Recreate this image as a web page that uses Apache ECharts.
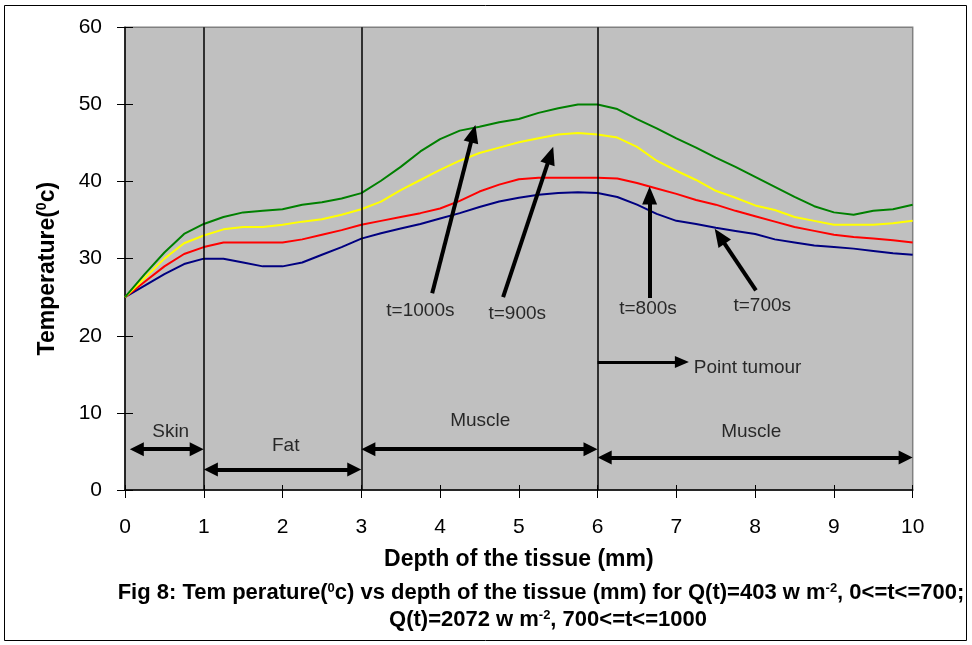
<!DOCTYPE html>
<html>
<head>
<meta charset="utf-8">
<script src="https://cdn.jsdelivr.net/npm/echarts@6/dist/echarts.min.js"></script>
<style>html,body{margin:0;padding:0;background:#fff;}#c{width:972px;height:645px;}</style>
</head>
<body>
<div id="c"></div>
<script>
// ---- data ----
const depth = [0,0.25,0.5,0.75,1,1.25,1.5,1.75,2,2.25,2.5,2.75,3,3.25,3.5,3.75,4,4.25,4.5,4.75,5,5.25,5.5,5.75,6,6.25,6.5,6.75,7,7.25,7.5,7.75,8,8.25,8.5,8.75,9,9.25,9.5,9.75,10];
const t1000 = [25,28,30.8,33.2,34.5,35.4,36.0,36.2,36.4,37.0,37.3,37.8,38.5,40.1,41.9,43.9,45.5,46.6,47.1,47.7,48.1,48.9,49.5,50.0,50.0,49.4,48.1,46.9,45.6,44.4,43.1,41.9,40.6,39.3,38.0,36.8,36.0,35.7,36.2,36.4,37.0];
const t900  = [25,27.5,30,32,33.0,33.8,34.1,34.1,34.4,34.8,35.1,35.7,36.4,37.4,38.9,40.2,41.5,42.7,43.7,44.4,45.1,45.6,46.1,46.3,46.1,45.7,44.5,42.7,41.4,40.2,38.8,37.9,36.9,36.3,35.4,34.9,34.4,34.4,34.4,34.6,34.9];
const t800  = [25,27,29,30.6,31.5,32.1,32.1,32.1,32.1,32.5,33.1,33.7,34.4,34.9,35.4,35.9,36.5,37.5,38.7,39.6,40.3,40.5,40.5,40.5,40.5,40.4,39.8,39.1,38.4,37.6,37.0,36.2,35.5,34.8,34.1,33.6,33.1,32.8,32.6,32.4,32.1];
const t700  = [25,26.5,28,29.3,30.0,30.0,29.5,29.0,29.0,29.5,30.5,31.5,32.6,33.3,33.9,34.5,35.2,35.9,36.7,37.4,37.9,38.3,38.5,38.6,38.5,38.0,37.0,35.8,34.9,34.5,34.0,33.6,33.2,32.5,32.1,31.7,31.5,31.3,31.0,30.7,30.5];
const xTicks = [0,1,2,3,4,5,6,7,8,9,10];
const yTicks = [0,10,20,30,40,50,60];
const layerBounds = [1,3,6];
// annotations (data coordinates)
const timeArrows = [
  {from:[3.90,25.5], to:[4.42,46.2]},
  {from:[4.80,25.0], to:[5.40,43.4]},
  {from:[6.66,24.9], to:[6.66,38.2]},
  {from:[8.01,25.9], to:[7.55,32.9]}
];
const layerArrows = [
  {from:[0.15,5.3], to:[0.91,5.3]},
  {from:[1.09,2.66], to:[2.91,2.66]},
  {from:[3.09,5.3], to:[5.91,5.3]},
  {from:[6.09,4.2], to:[9.91,4.2]}
];
const tumourArrow = {from:[6.0,16.6], to:[7.07,16.6]};
const annText = [
  [3.75,23.2,'t=1000s'],[4.98,22.8,'t=900s'],[6.64,23.5,'t=800s'],[8.09,23.9,'t=700s'],
  [0.58,7.5,'Skin'],[2.04,5.8,'Fat'],[4.51,9.0,'Muscle'],[7.95,7.5,'Muscle']
];
const tumourText = [[7.22,15.9,'Point tumour']];

const pairs = arr => depth.map((d,i)=>[d,arr[i]]);
const FONT = '"Liberation Sans", Arial, sans-serif';

const chart = echarts.init(document.getElementById('c'), null, {renderer:'canvas'});
function seg(a, sym, size, w){
  return [{coord:a.from, symbol:sym[0], symbolSize:size}, {coord:a.to, symbol:sym[1], symbolSize:size, lineStyle:{width:w}}];
}
const axisCommon = {
  axisLine:{show:false}, splitLine:{show:false}, axisLabel:{show:false}
};
const capRich = {
  b:{fontSize:22,fontWeight:'bold',fontFamily:FONT,fill:'#000',verticalAlign:'bottom'},
  s:{fontSize:13,fontWeight:'bold',fontFamily:FONT,fill:'#000',verticalAlign:'top',padding:[0,0,9,0]}
};
chart.setOption({
  animation:false,
  backgroundColor:'#fff',
  grid:{left:125,right:59.3,top:27.3,bottom:155,show:true,backgroundColor:'#c0c0c0',borderColor:'#808080',borderWidth:1.5},
  xAxis:[{
    type:'value',min:0,max:10,interval:1,position:'bottom',
    axisLine:{show:true,lineStyle:{color:'#000',width:1.5}},
    axisTick:{show:true,length:8,lineStyle:{color:'#000',width:1}},
    axisLabel:{fontSize:21,color:'#000',margin:27,fontFamily:FONT},
    splitLine:{show:false},
    name:'Depth of the tissue (mm)',nameLocation:'middle',nameGap:58,
    nameTextStyle:{fontSize:23,fontWeight:'bold',color:'#000',fontFamily:FONT}
  },{
    type:'value',min:0,max:10,interval:1,position:'bottom',
    axisTick:{show:true,inside:true,length:5,lineStyle:{color:'#000',width:1}}, ...axisCommon
  }],
  yAxis:[{
    type:'value',min:0,max:60,interval:10,position:'left',
    axisLine:{show:true,lineStyle:{color:'#000',width:1.5}},
    axisTick:{show:true,length:8,lineStyle:{color:'#000',width:1}},
    axisLabel:{fontSize:21,color:'#000',margin:23,fontFamily:FONT},
    splitLine:{show:false},
    name:'{a|Temperature(}{s|0}{a|c)}',nameLocation:'middle',nameGap:66,nameRotate:90,
    nameTextStyle:{color:'#000',fontFamily:FONT,padding:[0,20,0,0],
      rich:{a:{fontSize:23,fontWeight:'bold',fontFamily:FONT,color:'#000',verticalAlign:'bottom'},
            s:{fontSize:14,fontWeight:'bold',fontFamily:FONT,color:'#000',verticalAlign:'top',padding:[0,0,10,0]}}}
  },{
    type:'value',min:0,max:60,interval:10,position:'left',
    axisTick:{show:true,inside:true,length:8,lineStyle:{color:'#000',width:1}}, ...axisCommon
  }],
  series:[
    {name:'t=700s',type:'line',data:pairs(t700),symbol:'none',lineStyle:{color:'#000080',width:2},
      markLine:{silent:true,symbol:['none','none'],label:{show:false},lineStyle:{color:'#000',width:1.5,type:'solid'},
        data:layerBounds.map(v=>({xAxis:v}))}},
    {name:'t=800s',type:'line',data:pairs(t800),symbol:'none',lineStyle:{color:'#ff0000',width:2}},
    {name:'t=900s',type:'line',data:pairs(t900),symbol:'none',lineStyle:{color:'#ffff00',width:2}},
    {name:'t=1000s',type:'line',data:pairs(t1000),symbol:'none',lineStyle:{color:'#008000',width:2}},
    {name:'arrows',type:'line',data:[],symbol:'none',
      markLine:{silent:true,label:{show:false},lineStyle:{color:'#000',width:4,type:'solid'},symbol:['none','triangle'],
        data:[
          ...timeArrows.map(a=>seg(a,['none','triangle'],[15,18],4)),
          ...layerArrows.map(a=>seg(a,['triangle','triangle'],[14,14],4)),
          seg(tumourArrow,['none','triangle'],[12,14],3)
        ]}},
    {name:'labels',type:'scatter',data:annText,symbolSize:0,silent:true,
      label:{show:true,position:[0,0],align:'center',verticalAlign:'middle',fontSize:19,color:'#000',fontFamily:FONT,
        formatter:p=>p.value[2]}},
    {name:'labels2',type:'scatter',data:tumourText,symbolSize:0,silent:true,
      label:{show:true,position:[0,0],align:'left',verticalAlign:'middle',fontSize:19,color:'#000',fontFamily:FONT,
        formatter:p=>p.value[2]}}
  ],
  graphic:[
    {type:'rect',silent:true,z:-1,shape:{x:4.5,y:5.5,width:962,height:635},style:{fill:'none',stroke:'#000',lineWidth:1}},
    {type:'text',silent:true,x:541,y:593,style:{
      text:'{b|Fig 8: Tem perature(}{s|0}{b|c) vs depth of the tissue (mm) for Q(t)=403 w m}{s|-2}{b|, 0<=t<=700;}',
      align:'center',verticalAlign:'middle',rich:capRich}},
    {type:'text',silent:true,x:548,y:620,style:{
      text:'{b|Q(t)=2072 w m}{s|-2}{b|, 700<=t<=1000}',
      align:'center',verticalAlign:'middle',rich:capRich}}
  ]
});
</script>
</body>
</html>
